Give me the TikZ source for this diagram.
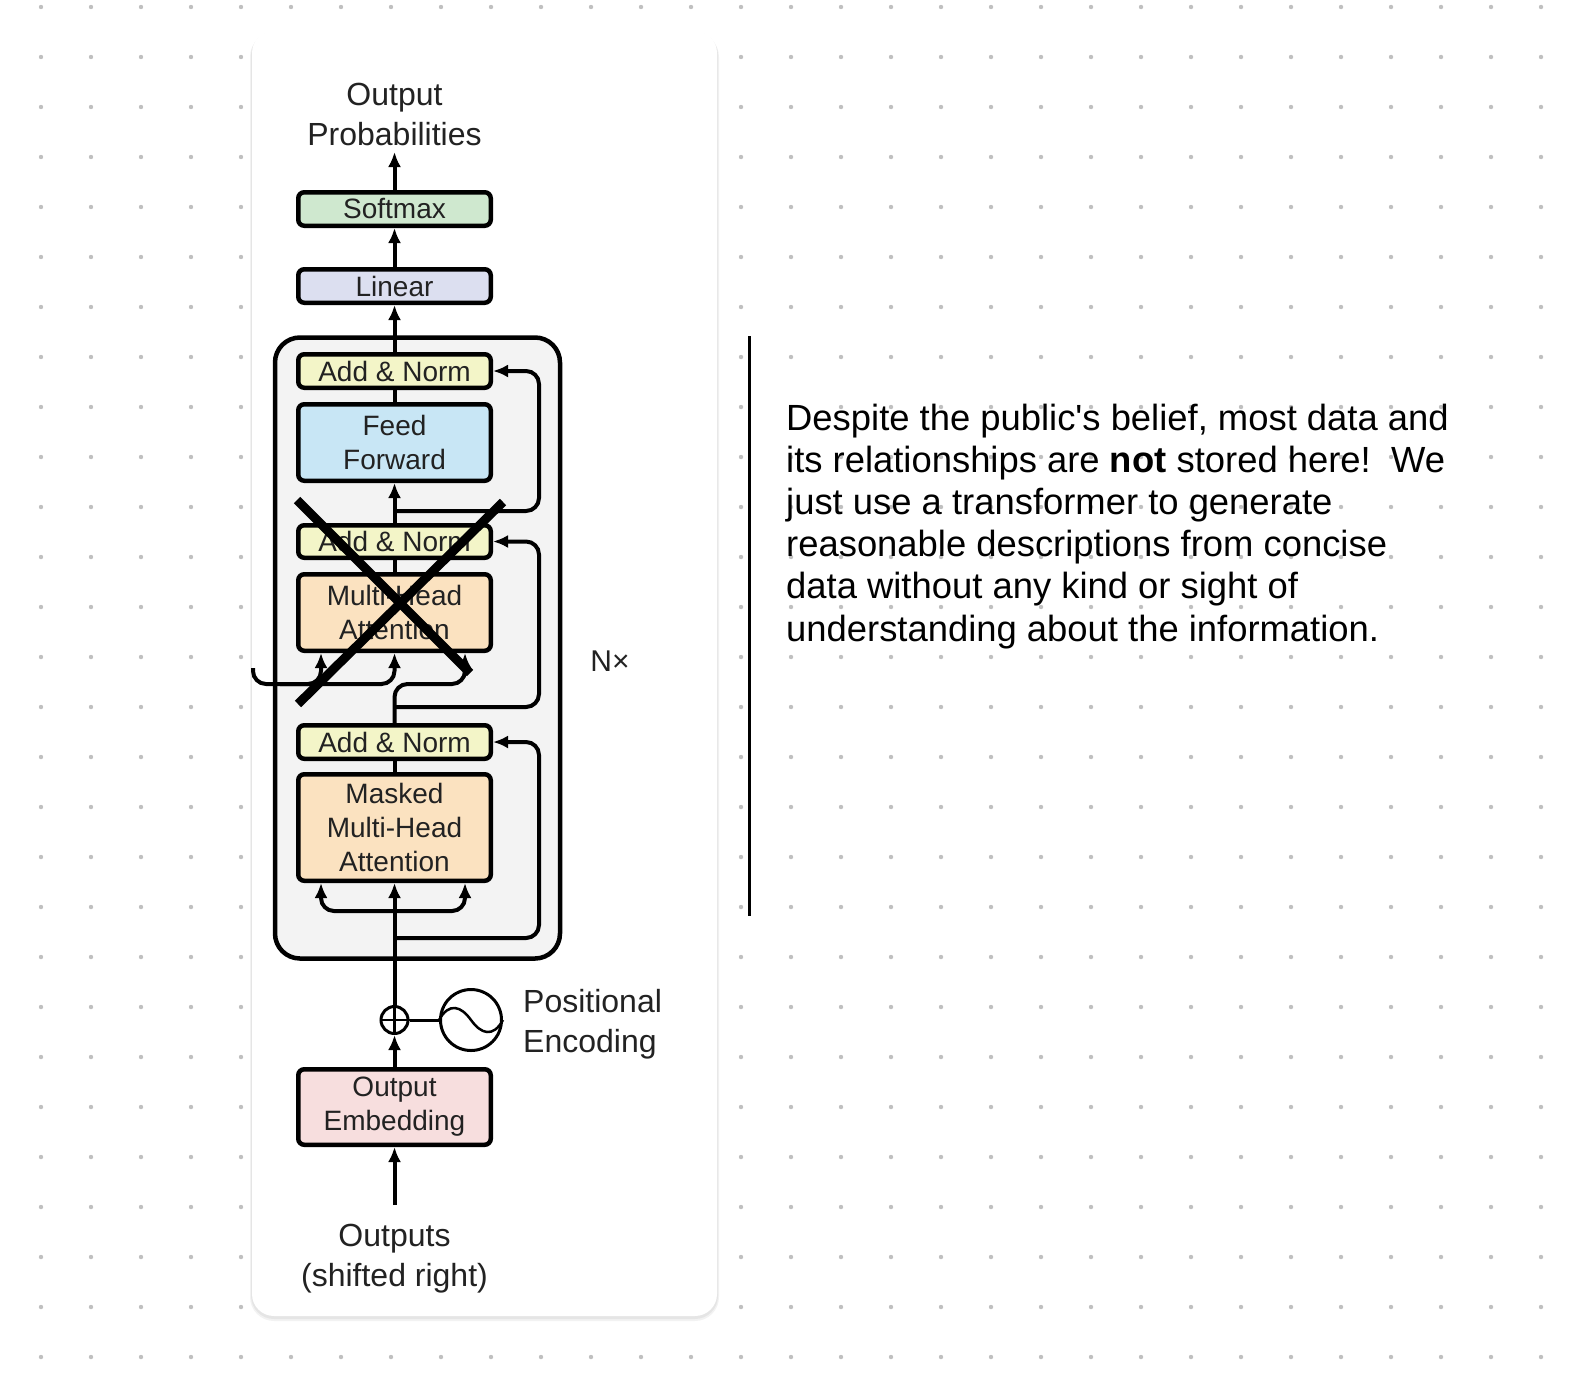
\documentclass[tikz,border=0pt]{standalone}
\usepackage{fontspec}
\setmainfont{Liberation Sans}
\usetikzlibrary{arrows.meta}
\definecolor{dotgray}{RGB}{192,192,192}
\definecolor{txtgray}{RGB}{34,34,34}
\definecolor{nxgray}{RGB}{243,243,243}
\definecolor{smgreen}{RGB}{207,232,207}
\definecolor{linblue}{RGB}{220,223,240}
\definecolor{anyellow}{RGB}{243,245,200}
\definecolor{ffblue}{RGB}{200,230,245}
\definecolor{attorange}{RGB}{251,226,192}
\definecolor{embpink}{RGB}{247,222,222}

\begin{document}
\begin{tikzpicture}[x=1pt,y=-1pt,
  >={Latex[length=15pt,width=13pt]},
  blk/.style={draw=black,line width=4.5pt,rounded corners=6pt,minimum width=192.5pt,
    inner sep=0pt,align=center,text=txtgray,font=\fontsize{28}{34}\selectfont},
  flow/.style={line width=4pt,rounded corners=13pt},
  lbl/.style={align=center,inner sep=0pt,text=txtgray,font=\fontsize{32}{40}\selectfont}]
\useasboundingbox (0,0) rectangle (1578,1392);
\fill[white] (0,0) rectangle (1578,1392);
%% dot grid
\foreach \i in {0,...,30}
  \foreach \j in {0,...,27}
    \fill[dotgray] ({41+50*\i},{7+50*\j}) circle (2.2pt);
%% the card
\fill[black,opacity=.05,rounded corners=24pt] (250,33) rectangle (719,1321);
\fill[black,opacity=.05,rounded corners=23pt] (251,32) rectangle (718,1319);
\fill[white,rounded corners=22pt] (252,31) rectangle (717,1316);
%% the Nx block
\node[draw=black,fill=nxgray,line width=4.5pt,rounded corners=25pt,minimum width=285pt,
  minimum height=621pt] (nx) at (417.5,648) {};
\node[lbl,font=\fontsize{30}{36}\selectfont] (nlab) at (610,661) {N×};
%% boxes
\node[blk,fill=smgreen,minimum height=33.5pt] (soft) at (394.5,209) {Softmax};
\node[blk,fill=linblue,minimum height=33.5pt] (lin) at (394.5,286) {Linear};
\node[blk,fill=anyellow,minimum height=33.5pt] (an1) at (394.5,371) {Add \& Norm};
\node[blk,fill=ffblue,minimum height=76.5pt] (ff) at (394.5,442.5) {Feed\\Forward};
\node[blk,fill=anyellow,minimum height=32.5pt] (an2) at (394.5,541.5) {Add \& Norm};
\node[blk,fill=attorange,minimum height=76.5pt] (mha) at (394.5,612.5) {Multi-Head\\Attention};
\node[blk,fill=anyellow,minimum height=33.5pt] (an3) at (394.5,742) {Add \& Norm};
\node[blk,fill=attorange,minimum height=106.5pt] (msk) at (394.5,827.5) {Masked\\Multi-Head\\Attention};
\node[blk,fill=embpink,minimum height=75.5pt] (emb) at (394.5,1107) {Output\\Embedding};
\node[draw=black,circle,line width=3pt,minimum size=27pt,inner sep=0pt] (plus) at (394.5,1020) {};
\node[draw=black,circle,line width=3pt,minimum size=61pt,inner sep=0pt] (pe) at (471,1020) {};
%% labels
\node[lbl] (prob) at (394.5,114) {Output\\Probabilities};
\node[lbl,anchor=west,align=left] (pelab) at (523,1024) {Positional\\Encoding};
\node[lbl] (outs) at (394.5,1259) {Outputs\\(shifted right)};
\coordinate (ptop) at (394.5,152);
\coordinate (ins) at (394.5,1205);
\coordinate (enc) at (253,668);
\coordinate (r1) at (394.5,511);
\coordinate (r2) at (394.5,707);
\coordinate (r3) at (394.5,938);
\coordinate (r4) at (394.5,911);
%% top of the stack
\draw[flow,->] (soft.north) -- (ptop);
\draw[flow,->] (lin.north) -- (soft.south);
\draw[flow,->] (an1.north) -- (lin.south);
\draw[flow] (ff.north) -- (an1.south);
\draw[flow,->] (an2.north) -- (ff.south);
\draw[flow,->] (r1) -- (539,511) -- (539,371) -- (an1.east);
%% cross attention
\draw[flow] (mha.north) -- (an2.south);
\draw[flow,->] (enc) -- (253,684) -| (mha.south);
\draw[flow,->] (280,684) -| ([xshift=-73.5pt]mha.south);
\draw[flow,->] (an3.north) -- (394.5,684) -| ([xshift=70.5pt]mha.south);
\draw[flow,->] (r2) -- (539,707) -- (539,541.5) -- (an2.east);
%% masked attention
\draw[flow] (msk.north) -- (an3.south);
\draw[flow,->] (plus.north) -- (msk.south);
\draw[flow,->] (r4) -| ([xshift=-73.5pt]msk.south);
\draw[flow,->] (r4) -| ([xshift=70.5pt]msk.south);
\draw[flow,->] (r3) -- (539,938) -- (539,742) -- (an3.east);
%% embedding and positional encoding
\draw[flow,->] (emb.north) -- (plus.south);
\draw[flow,->] (ins) -- (emb.south);
\draw[line width=2.5pt] (plus.north) -- (plus.south);
\draw[line width=2.5pt] (plus.west) -- (plus.east);
\draw[line width=3pt] (plus.east) -- (pe.west);
\draw[line width=2.5pt] (pe.west) .. controls +(10,-18) and +(-10,-14) .. (pe.center)
  .. controls +(10,14) and +(-10,18) .. (pe.east);
%% the cross
\draw[line width=9pt] (297,500) -- (470,673);
\draw[line width=9pt] (503,502) -- (298,704);
%% note on the right
\draw[line width=3pt] (749,336) -- (749,916);
\node[anchor=north west,align=left,inner sep=0pt,font=\fontsize{36.4}{42.1}\selectfont] (note) at (786,404)
  {Despite the public\textquotesingle s belief, most data and\\
   its relationships are \textbf{not} stored here!\ \ We\\
   just use a transformer to generate\\
   reasonable descriptions from concise\\
   data without any kind or sight of\\
   understanding about the information.};
\end{tikzpicture}
\end{document}
